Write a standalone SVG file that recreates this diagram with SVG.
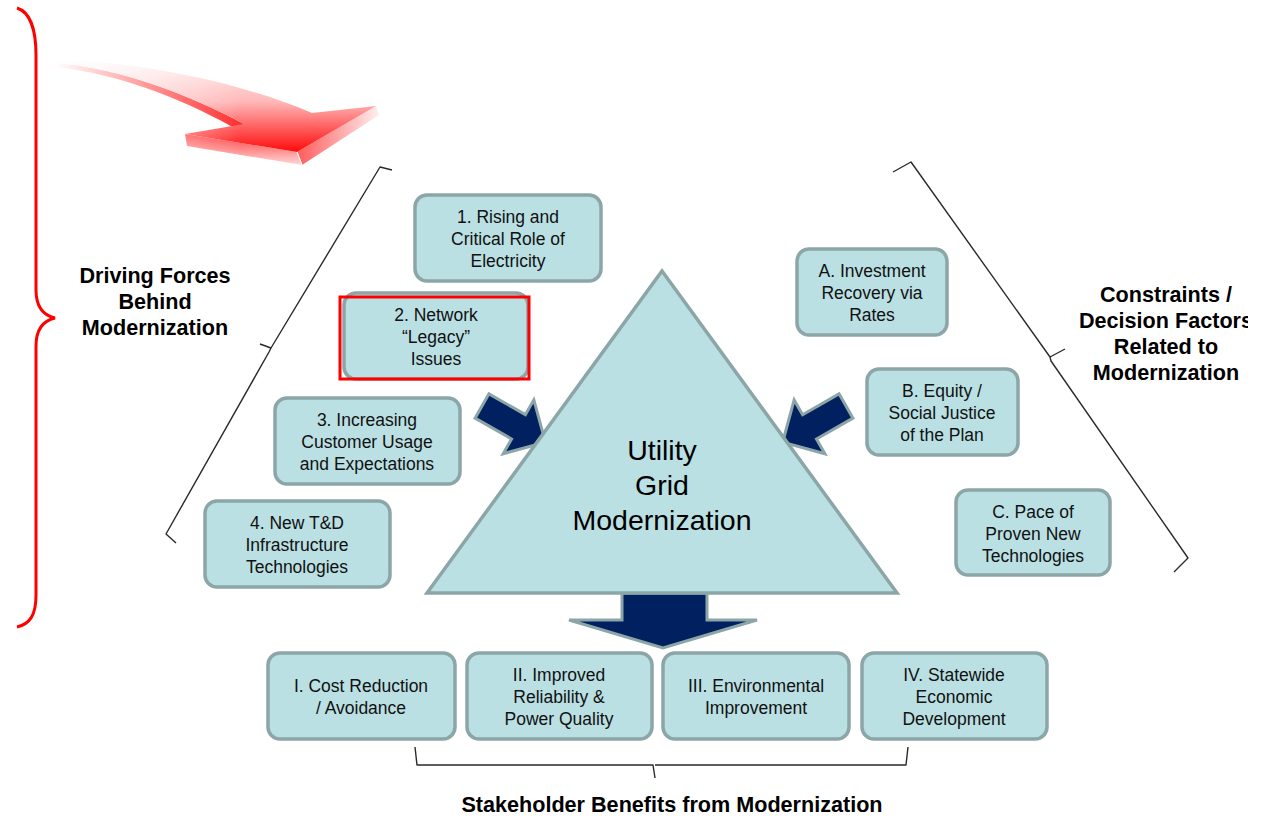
<svg xmlns="http://www.w3.org/2000/svg" width="1264" height="816" viewBox="0 0 1264 816">
  <style>
    .box { fill: #bae0e3; stroke: #8ca6a8; stroke-width: 3.5; }
    .lbl { font-family: "Liberation Sans", Arial, sans-serif; font-size: 17.5px; fill: #111; text-anchor: middle; }
    .head { font-family: "Liberation Sans", Arial, sans-serif; font-size: 21.6px; font-weight: bold; fill: #000; text-anchor: middle; }
    .title { font-family: "Liberation Sans", Arial, sans-serif; font-size: 28.5px; fill: #000; text-anchor: middle; }
    .navy { fill: #002060; stroke: #8ca6a8; stroke-width: 3; stroke-linejoin: miter; }
    .brace { fill: none; stroke: #2a2a2a; stroke-width: 1.4; stroke-linejoin: round; }
  </style>
  <defs>
    <linearGradient id="arrowTop" gradientUnits="userSpaceOnUse" x1="0" y1="58" x2="0" y2="155">
      <stop offset="0" stop-color="#fff2f2"/>
      <stop offset="0.45" stop-color="#ffb8b8"/>
      <stop offset="1" stop-color="#ff0000"/>
    </linearGradient>
    <linearGradient id="arrowSide" gradientUnits="userSpaceOnUse" x1="0" y1="130" x2="0" y2="168">
      <stop offset="0" stop-color="#ff2a2a"/>
      <stop offset="1" stop-color="#ffe6e6"/>
    </linearGradient>
    <linearGradient id="arrowEdge" gradientUnits="userSpaceOnUse" x1="300" y1="0" x2="380" y2="0">
      <stop offset="0" stop-color="#ff6060"/>
      <stop offset="1" stop-color="#fff0f0"/>
    </linearGradient>
    <linearGradient id="fadeRamp" gradientUnits="userSpaceOnUse" x1="55" y1="0" x2="240" y2="0">
      <stop offset="0" stop-color="#000"/>
      <stop offset="1" stop-color="#fff"/>
    </linearGradient>
    <mask id="tailFade">
      <rect x="0" y="0" width="420" height="200" fill="url(#fadeRamp)"/>
    </mask>
    <clipPath id="rightClip">
      <rect x="0" y="0" width="1248" height="816"/>
    </clipPath>
    <polygon id="blockArrow" points="0,-14 42,-14 42,-31 73,0 42,31 42,14 0,14"/>
  </defs>

  <rect width="1264" height="816" fill="#ffffff"/>

  <!-- red brace along the left edge -->
  <path d="M17,8 C30,12 36,30 36,55 L36,290 C36,305 42,315 55,318 C42,321 36,331 36,346 L36,595 C36,615 30,624 17,627" fill="none" stroke="#ff0000" stroke-width="3"/>

  <!-- curved red 3D arrow -->
  <g id="red-arrow" mask="url(#tailFade)">
    <path d="M244,124 C190,95 120,68 55,63 L55,67 C125,74 192,104 240,131 Z" fill="#ff3030"/>
    <path d="M185,134 L187,146 L302,165 L297,152 Z" fill="url(#arrowSide)"/>
    <path d="M297,152 L376,106 L379,115 L302,165 Z" fill="url(#arrowEdge)"/>
    <path d="M55,59 C140,62 240,82 312,113 L376,106 L297,152 L185,134 L244,124 C190,95 120,68 55,63 Z" fill="url(#arrowTop)"/>
    <path d="M297,152 L302,165" stroke="#ffffff" stroke-width="1.2"/>
  </g>

  <!-- slanted braces, bottom brace and block arrows -->
  <g id="connectors">
    <path class="brace" d="M392,170 L380,167 L271,348 L260,344 M271,348 L269,352 L166,534 L176,543"/>
    <path class="brace" d="M893,172 L911,162 L1050,357 L1065,349 M1050,357 L1051,361 L1188,558 L1174,572"/>
    <path class="brace" d="M415,747 L417,765 L653,765 L655,778 M655,765 L906,765 L908,747"/>
    <use href="#blockArrow" class="navy" transform="translate(482,406) rotate(29.7)"/>
    <use href="#blockArrow" class="navy" transform="translate(846,406) rotate(150.2)"/>
    <polygon class="navy" points="622,593 707,593 707,620 757,620 663,648 569,620 622,620"/>
  </g>

  <!-- central triangle -->
  <g id="utility-grid">
    <polygon points="662,271 897,593 427,593" fill="#bae0e3" stroke="#8ca6a8" stroke-width="3.5" stroke-linejoin="miter"/>
    <text class="title" x="662" y="460">Utility</text>
    <text class="title" x="662" y="495">Grid</text>
    <text class="title" x="662" y="530">Modernization</text>
  </g>

  <!-- driving forces -->
  <g id="df-1">
    <rect class="box" x="415" y="195" width="186" height="86" rx="12"/>
    <text class="lbl" x="508" y="223">1. Rising and</text>
    <text class="lbl" x="508" y="245">Critical Role of</text>
    <text class="lbl" x="508" y="267">Electricity</text>
  </g>
  <g id="df-2">
    <rect class="box" x="344" y="293" width="184" height="86" rx="12"/>
    <rect x="340" y="297" width="189" height="82" fill="none" stroke="#ff0000" stroke-width="3"/>
    <text class="lbl" x="436" y="321">2. Network</text>
    <text class="lbl" x="436" y="343">“Legacy”</text>
    <text class="lbl" x="436" y="365">Issues</text>
  </g>
  <g id="df-3">
    <rect class="box" x="275" y="398" width="185" height="86" rx="12"/>
    <text class="lbl" x="367" y="426">3. Increasing</text>
    <text class="lbl" x="367" y="448">Customer Usage</text>
    <text class="lbl" x="367" y="470">and Expectations</text>
  </g>
  <g id="df-4">
    <rect class="box" x="205" y="501" width="185" height="86" rx="12"/>
    <text class="lbl" x="297" y="529">4. New T&amp;D</text>
    <text class="lbl" x="297" y="551">Infrastructure</text>
    <text class="lbl" x="297" y="573">Technologies</text>
  </g>

  <!-- constraints -->
  <g id="c-a">
    <rect class="box" x="797" y="249" width="150" height="86" rx="12"/>
    <text class="lbl" x="872" y="277">A. Investment</text>
    <text class="lbl" x="872" y="299">Recovery via</text>
    <text class="lbl" x="872" y="321">Rates</text>
  </g>
  <g id="c-b">
    <rect class="box" x="867" y="369" width="151" height="86" rx="12"/>
    <text class="lbl" x="942" y="397">B. Equity /</text>
    <text class="lbl" x="942" y="419">Social Justice</text>
    <text class="lbl" x="942" y="441">of the Plan</text>
  </g>
  <g id="c-c">
    <rect class="box" x="956" y="490" width="154" height="85" rx="12"/>
    <text class="lbl" x="1033" y="518">C. Pace of</text>
    <text class="lbl" x="1033" y="540">Proven New</text>
    <text class="lbl" x="1033" y="562">Technologies</text>
  </g>

  <!-- benefits -->
  <g id="b-1">
    <rect class="box" x="268" y="653" width="187" height="86" rx="12"/>
    <text class="lbl" x="361" y="692">I. Cost Reduction</text>
    <text class="lbl" x="361" y="714">/ Avoidance</text>
  </g>
  <g id="b-2">
    <rect class="box" x="467" y="653" width="185" height="86" rx="12"/>
    <text class="lbl" x="559" y="681">II. Improved</text>
    <text class="lbl" x="559" y="703">Reliability &amp;</text>
    <text class="lbl" x="559" y="725">Power Quality</text>
  </g>
  <g id="b-3">
    <rect class="box" x="663" y="653" width="186" height="86" rx="12"/>
    <text class="lbl" x="756" y="692">III. Environmental</text>
    <text class="lbl" x="756" y="714">Improvement</text>
  </g>
  <g id="b-4">
    <rect class="box" x="862" y="653" width="185" height="86" rx="12"/>
    <text class="lbl" x="954" y="681">IV. Statewide</text>
    <text class="lbl" x="954" y="703">Economic</text>
    <text class="lbl" x="954" y="725">Development</text>
  </g>

  <!-- group headings -->
  <g id="heading-drivers">
    <text class="head" x="155" y="283">Driving Forces</text>
    <text class="head" x="155" y="309">Behind</text>
    <text class="head" x="155" y="335">Modernization</text>
  </g>
  <g id="heading-constraints" clip-path="url(#rightClip)">
    <text class="head" x="1166" y="302">Constraints /</text>
    <text class="head" x="1166" y="328">Decision Factors</text>
    <text class="head" x="1166" y="354">Related to</text>
    <text class="head" x="1166" y="380">Modernization</text>
  </g>
  <g id="heading-benefits">
    <text class="head" x="672" y="812">Stakeholder Benefits from Modernization</text>
  </g>
</svg>
